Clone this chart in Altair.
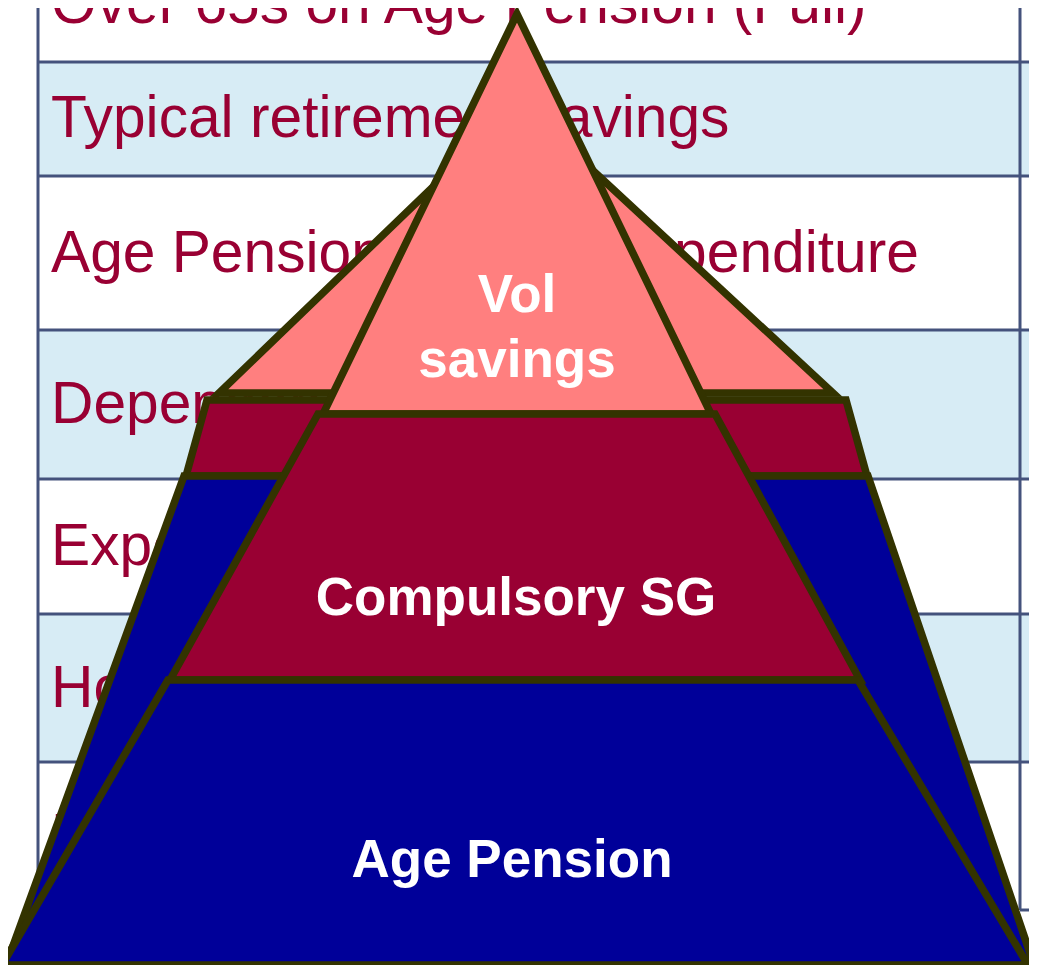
import altair as alt
import pandas as pd

# ---------------- table behind the pyramid ----------------
row_labels = [
    "Over 65s on Age Pension (Full)",
    "Typical retirement savings",
    "Age Pension as % of expenditure",
    "Dependency ratio",
    "Expected years in retirement",
    "Home ownership",
    "Retirement age",
]
row_top = [0, 62, 176, 330, 479, 614, 762]
row_bottom = [62, 176, 330, 479, 614, 762, 908]
row_fill = ["#FFFFFF", "#D7ECF5", "#FFFFFF", "#D7ECF5", "#FFFFFF", "#D7ECF5", "#FFFFFF"]
row_baseline = [23, 137, 272, 423, 565, 707, 855]
table_left = [38]
table_divider = [1020]
table_right = [1037]

# ---------------- pyramid layers ----------------
shape_names = ["back_vol", "back_sg", "back_ap", "front_vol", "front_sg", "front_ap"]
shape_fill = ["#FF7F7F", "#990033", "#000099", "#FF7F7F", "#990033", "#000099"]
shape_top_y = [103, 400, 476, 14, 414, 680]
shape_bottom_y = [393, 476, 965, 414, 680, 965]
shape_top_left = [520, 207, 184, 517, 318, 168]
shape_top_right = [520, 846, 868, 517, 715, 858]
shape_bottom_left = [219, 186, 6, 323, 170, 2]
shape_bottom_right = [833, 867, 1034, 711, 860, 1028]

label_text = ["Vol", "savings", "Compulsory SG", "Age Pension"]
label_x = [517, 517, 516, 512]
label_y = [312, 377, 615, 877]

# the page has an 8px margin: map reference pixels 1:1 onto the page
xs = alt.Scale(domain=[8, 1029], nice=False, zero=False)
ys = alt.Scale(domain=[8, 965], nice=False, zero=False, reverse=True)

rows_df = pd.DataFrame({
    "label": row_labels, "top": row_top, "bottom": row_bottom,
    "fill": row_fill, "base": row_baseline,
    "left": table_left * len(row_labels), "right": table_right * len(row_labels),
    "tx": [51] * len(row_labels),
})

rects = alt.Chart(rows_df).mark_rect(clip=True).encode(
    x=alt.X("left:Q", scale=xs, axis=None),
    x2="right:Q",
    y=alt.Y("top:Q", scale=ys, axis=None),
    y2="bottom:Q",
    fill=alt.Fill("fill:N", scale=None),
)

hlines_df = pd.DataFrame({"y": row_top[1:], "x": table_left * 6, "x2": table_right * 6})
hlines = alt.Chart(hlines_df).mark_rule(color="#44527C", strokeWidth=3, clip=True).encode(
    x=alt.X("x:Q", scale=xs, axis=None), x2="x2:Q",
    y=alt.Y("y:Q", scale=ys, axis=None),
)
bottom_df = pd.DataFrame({"y": [row_bottom[-1] + 2], "x": table_divider, "x2": table_right})
bottom_line = alt.Chart(bottom_df).mark_rule(color="#44527C", strokeWidth=3, clip=True).encode(
    x=alt.X("x:Q", scale=xs, axis=None), x2="x2:Q",
    y=alt.Y("y:Q", scale=ys, axis=None),
)
vlines_df = pd.DataFrame({"x": table_left + table_divider, "y": [0, 0], "y2": [row_bottom[-1], row_bottom[-1] + 2]})
vlines = alt.Chart(vlines_df).mark_rule(color="#44527C", strokeWidth=3, clip=True).encode(
    x=alt.X("x:Q", scale=xs, axis=None),
    y=alt.Y("y:Q", scale=ys, axis=None), y2="y2:Q",
)

row_text = alt.Chart(rows_df).mark_text(
    align="left", baseline="alphabetic", font="Liberation Sans",
    fontSize=58.7, color="#990033", clip=True,
).encode(
    x=alt.X("tx:Q", scale=xs, axis=None),
    y=alt.Y("base:Q", scale=ys, axis=None),
    text="label:N",
)

layers = [rects, hlines, bottom_line, vlines, row_text]

for i, name in enumerate(shape_names):
    df = pd.DataFrame({
        "shape": [name, name],
        "y": [shape_top_y[i], shape_bottom_y[i]],
        "xl": [shape_top_left[i], shape_bottom_left[i]],
        "xr": [shape_top_right[i], shape_bottom_right[i]],
    })
    layers.append(
        alt.Chart(df).mark_area(
            orient="horizontal", fill=shape_fill[i], stroke="#333300",
            strokeWidth=7.5, strokeJoin="miter", fillOpacity=1, clip=True,
        ).encode(
            y=alt.Y("y:Q", scale=ys, axis=None),
            x=alt.X("xl:Q", scale=xs, axis=None),
            x2="xr:Q",
        )
    )

labels_df = pd.DataFrame({"t": label_text, "x": label_x, "y": label_y})
labels = alt.Chart(labels_df).mark_text(
    align="center", baseline="alphabetic", font="Liberation Sans",
    fontSize=53, fontWeight="bold", color="#FFFFFF",
).encode(
    x=alt.X("x:Q", scale=xs, axis=None),
    y=alt.Y("y:Q", scale=ys, axis=None),
    text="t:N",
)
layers.append(labels)

chart = alt.layer(*layers).properties(
    width=1021, height=957, padding=0,
    autosize=alt.AutoSizeParams(type="none"),
).configure_view(stroke=None)

chart.save("out.html", embed_options={"renderer": "svg", "actions": False})
